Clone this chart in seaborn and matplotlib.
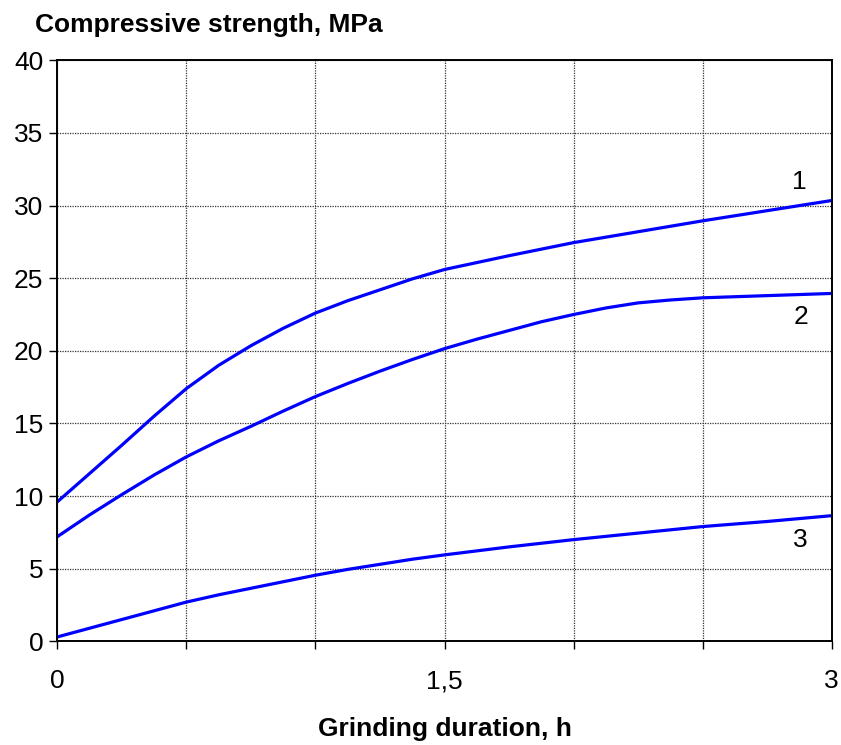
import matplotlib
matplotlib.use("Agg")
import matplotlib.pyplot as plt
import seaborn as sns
import pandas as pd

# Grinding duration, h, and compressive strength, MPa, for the three compositions
duration_1 = [0.0, 0.125, 0.25, 0.375, 0.5, 0.625, 0.75, 0.875, 1.0, 1.125, 1.25,
              1.375, 1.5, 1.75, 2.0, 2.25, 2.5, 2.75, 3.0]
strength_1 = [9.6, 11.55, 13.5, 15.5, 17.4, 19.0, 20.35, 21.55, 22.6, 23.45, 24.2,
              24.95, 25.6, 26.55, 27.45, 28.2, 28.95, 29.65, 30.35]

duration_2 = [0.0, 0.125, 0.25, 0.375, 0.5, 0.625, 0.75, 0.875, 1.0, 1.125, 1.25,
              1.375, 1.5, 1.625, 1.75, 1.875, 2.0, 2.125, 2.25, 2.375, 2.5, 2.75, 3.0]
strength_2 = [7.2, 8.7, 10.1, 11.45, 12.7, 13.8, 14.8, 15.85, 16.85, 17.75, 18.6,
              19.4, 20.15, 20.8, 21.4, 22.0, 22.5, 22.95, 23.3, 23.5, 23.65, 23.8, 23.95]

duration_3 = [0.0, 0.125, 0.25, 0.375, 0.5, 0.625, 0.75, 0.875, 1.0, 1.125, 1.25,
              1.375, 1.5, 1.75, 2.0, 2.25, 2.5, 2.75, 3.0]
strength_3 = [0.3, 0.9, 1.5, 2.1, 2.7, 3.2, 3.65, 4.1, 4.55, 4.95, 5.3,
              5.65, 5.95, 6.5, 7.0, 7.45, 7.9, 8.25, 8.65]

curve_names = ["1", "2", "3"]

x_ticks = [0.0, 0.5, 1.0, 1.5, 2.0, 2.5, 3.0]
x_tick_labels = ["0", "", "", "1,5", "", "", "3"]
y_ticks = [0, 5, 10, 15, 20, 25, 30, 35, 40]

frames = []
for name, xs, ys in zip(curve_names,
                        [duration_1, duration_2, duration_3],
                        [strength_1, strength_2, strength_3]):
    frames.append(pd.DataFrame({"duration": xs, "strength": ys, "curve": name}))
data = pd.concat(frames, ignore_index=True)

sns.set_theme(style="white")
plt.rcParams["font.family"] = ["Liberation Sans", "DejaVu Sans"]

fig = plt.figure(figsize=(8.41, 7.45), dpi=100)
ax = fig.add_axes([0.0681, 0.1392, 0.9209, 0.7798])

sns.lineplot(data=data, x="duration", y="strength", hue="curve",
             palette=["#0000ff"] * 3, linewidth=2.3, legend=False, ax=ax,
             solid_joinstyle="round", solid_capstyle="butt")

ax.set_xlim(0, 3)
ax.set_ylim(0, 40)
ax.set_xticks(x_ticks)
ax.set_xticklabels(x_tick_labels)
ax.set_yticks(y_ticks)
ax.grid(True, color="#333333", linestyle=(0, (1, 1)), linewidth=0.9)
ax.set_axisbelow(True)

for side in ["left", "bottom", "right", "top"]:
    ax.spines[side].set_color("black")
    ax.spines[side].set_linewidth(1.4)

ax.tick_params(axis="both", which="major", direction="out", length=6, width=1,
               color="black", labelsize=19, labelcolor="black", left=True, bottom=True)
ax.tick_params(axis="x", pad=14)
ax.tick_params(axis="y", pad=4)

ax.set_xlabel("")
ax.set_ylabel("")

# Curve numbers near the right end of each curve
for name, xpos, ypos in [("1", 2.874, 31.6), ("2", 2.88, 22.35), ("3", 2.88, 6.97)]:
    ax.text(xpos, ypos, name, fontsize=19, ha="center", va="center", color="black")

fig.text(35 / 841, 1 - 25 / 745, "Compressive strength, MPa", fontsize=19,
         fontweight="bold", ha="left", va="center", color="black")
fig.text(445 / 841, 1 - 729 / 745, "Grinding duration, h", fontsize=19,
         fontweight="bold", ha="center", va="center", color="black")

fig.savefig("out.png", dpi=100)
